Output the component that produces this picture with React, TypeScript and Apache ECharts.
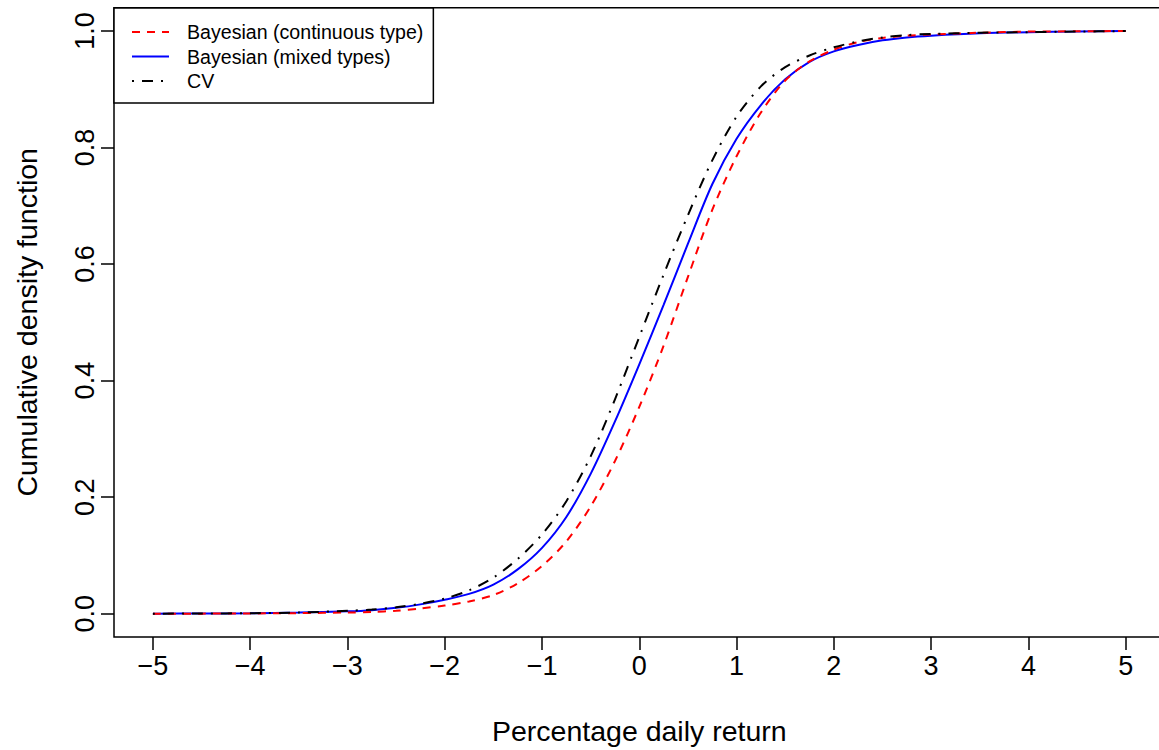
import React, { useEffect, useRef } from 'react';
import * as echarts from 'echarts';

const xValues = [-5, -4.5, -4, -3.5, -3, -2.75, -2.5, -2.25, -2, -1.75, -1.5, -1.25, -1, -0.75, -0.5, -0.25, 0, 0.25, 0.5, 0.75, 1, 1.25, 1.5, 1.75, 2, 2.25, 2.5, 2.75, 3, 3.5, 4, 4.5, 5];
const bayesContinuous = [0, 0.0001, 0.0004, 0.001, 0.002, 0.003, 0.005, 0.009, 0.014, 0.021, 0.032, 0.052, 0.082, 0.124, 0.184, 0.262, 0.355, 0.46, 0.578, 0.693, 0.785, 0.86, 0.915, 0.948, 0.968, 0.981, 0.988, 0.992, 0.994, 0.997, 0.999, 0.9995, 1.0];
const bayesMixed = [0, 0.0003, 0.0008, 0.002, 0.004, 0.006, 0.01, 0.016, 0.024, 0.034, 0.05, 0.076, 0.113, 0.166, 0.24, 0.33, 0.428, 0.53, 0.635, 0.737, 0.815, 0.873, 0.917, 0.947, 0.965, 0.976, 0.984, 0.989, 0.992, 0.996, 0.998, 0.999, 1.0];
const cvValues = [0, 0.0003, 0.0008, 0.002, 0.005, 0.007, 0.011, 0.017, 0.026, 0.04, 0.062, 0.094, 0.136, 0.193, 0.27, 0.368, 0.475, 0.582, 0.684, 0.778, 0.853, 0.905, 0.938, 0.958, 0.972, 0.982, 0.989, 0.993, 0.995, 0.997, 0.998, 0.999, 1.0];
const xTicks = [-5, -4, -3, -2, -1, 0, 1, 2, 3, 4, 5];
const yTicks = [0, 0.2, 0.4, 0.6, 0.8, 1.0];

const FONT = '"Liberation Sans", Arial, Helvetica, sans-serif';

export default function App() {
  const ref = useRef<HTMLDivElement>(null);
  useEffect(() => {
    document.body.style.margin = '0';
    document.body.style.overflow = 'hidden';
    const chart = echarts.init(ref.current!, null, { renderer: 'svg' });
    const pairs = (ys: number[]) => xValues.map((x, i) => [x, ys[i]]);
    const fmtX = (v: number) => (v < 0 ? '\u2212' + Math.abs(v) : String(v));
    chart.setOption({
      animation: false,
      backgroundColor: '#fff',
      textStyle: { fontFamily: FONT },
      grid: {
        left: 114, top: 7.7, width: 1050.6, height: 629.6,
        show: true, borderColor: '#000', borderWidth: 1.5, backgroundColor: 'transparent',
      },
      legend: {
        orient: 'vertical', left: 114, top: 8,
        padding: [14, 10, 12, 17],
        itemWidth: 37, itemHeight: 14, itemGap: 4.5,
        backgroundColor: '#fff', borderColor: '#000', borderWidth: 1.5,
        itemStyle: { opacity: 0 },
        textStyle: { fontFamily: FONT, fontSize: 19.6, color: '#000', padding: [0, 0, 0, 13] },
        data: ['Bayesian (continuous type)', 'Bayesian (mixed types)', 'CV'],
      },
      xAxis: {
        type: 'value', min: -5.4, max: 5.4,
        name: 'Percentage daily return', nameLocation: 'middle', nameGap: 79,
        nameTextStyle: { fontFamily: FONT, fontSize: 28.5, color: '#000' },
        axisLine: { show: false, onZero: false },
        splitLine: { show: false },
        axisTick: { show: true, customValues: xTicks, length: 13, lineStyle: { color: '#000', width: 1.5 } },
        axisLabel: { customValues: xTicks, formatter: fmtX, fontFamily: FONT, fontSize: 27, color: '#000', margin: 15 },
      },
      yAxis: {
        type: 'value', min: -0.04, max: 1.04,
        name: 'Cumulative density function', nameLocation: 'middle', nameGap: 72.7,
        nameTextStyle: { fontFamily: FONT, fontSize: 28.5, color: '#000' },
        axisLine: { show: false, onZero: false },
        splitLine: { show: false },
        axisTick: { show: true, customValues: yTicks, length: 13, lineStyle: { color: '#000', width: 1.5 } },
        axisLabel: { customValues: yTicks, formatter: (v: number) => v.toFixed(1), rotate: 90, fontFamily: FONT, fontSize: 27, color: '#000', margin: 15.5 },
      },
      series: [
        {
          name: 'Bayesian (continuous type)', type: 'line', data: pairs(bayesContinuous),
          showSymbol: false, symbol: 'none', smooth: 0.3, z: 3,
          lineStyle: { color: '#ff0000', width: 2, type: [8, 7] }, itemStyle: { color: '#ff0000' },
        },
        {
          name: 'Bayesian (mixed types)', type: 'line', data: pairs(bayesMixed),
          showSymbol: false, symbol: 'none', smooth: 0.3, z: 2,
          lineStyle: { color: '#0000ff', width: 2, type: 'solid' }, itemStyle: { color: '#0000ff' },
        },
        {
          name: 'CV', type: 'line', data: pairs(cvValues),
          showSymbol: false, symbol: 'none', smooth: 0.3, z: 4,
          lineStyle: { color: '#000', width: 2, type: [2, 8, 11, 8] }, itemStyle: { color: '#000' },
        },
      ],
    });
    return () => chart.dispose();
  }, []);
  return (
    <div style={{ width: 1159, height: 750, overflow: 'hidden', position: 'relative' }}>
      <div ref={ref} style={{ width: 1172, height: 750 }} />
    </div>
  );
}
